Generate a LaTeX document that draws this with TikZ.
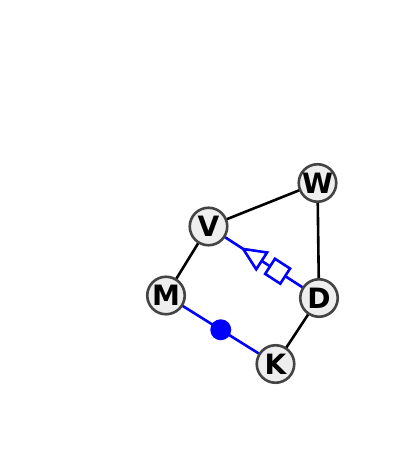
\documentclass[tikz,border=0pt]{standalone}
\usepackage{fontspec}
\setmainfont{DejaVu Sans}
\usetikzlibrary{calc}
\definecolor{nodefill}{HTML}{EEEEEE}
\definecolor{nodeline}{HTML}{444444}
\tikzset{
  vert/.style={circle, draw=nodeline, fill=nodefill, line width=2.6pt, minimum size=37.5pt, inner sep=0pt, font=\fontsize{28}{28}\selectfont\bfseries},
  edge/.style={line width=2.6pt, black},
  bedge/.style={line width=2.6pt, blue},
}
\begin{document}
\begin{tikzpicture}[x=1pt,y=-1pt]
\useasboundingbox (0,0) rectangle (400,463);
\coordinate (pW) at (317.5,183);
\coordinate (pV) at (208.5,226.5);
\coordinate (pM) at (166,295.5);
\coordinate (pD) at (319,298);
\coordinate (pK) at (275.5,364);
% edges
\draw[edge] (pV) -- (pW);
\draw[edge] (pW) -- (pD);
\draw[edge] (pV) -- (pM);
\draw[edge] (pD) -- (pK);
\draw[bedge] (pV) -- (pD);
\draw[bedge] (pM) -- (pK);
% decorations on V-D
\begin{scope}[shift={($(pV)!0.5!(pD)$)}, rotate={atan2(-71.5,110.5)}]
  \draw[bedge, fill=white, line join=miter] (-24.5,0) -- (-2.5,-10) -- (-2.5,10) -- cycle;
  \draw[bedge, fill=white] (7.5,-9) rectangle (25.5,9);
\end{scope}
\fill[blue] ($(pM)!0.5!(pK)$) circle (10.5);
% nodes
\node[vert] (W) at (pW) {W};
\node[vert] (V) at (pV) {V};
\node[vert] (M) at (pM) {M};
\node[vert] (D) at (pD) {D};
\node[vert] (K) at (pK) {K};
\end{tikzpicture}
\end{document}
